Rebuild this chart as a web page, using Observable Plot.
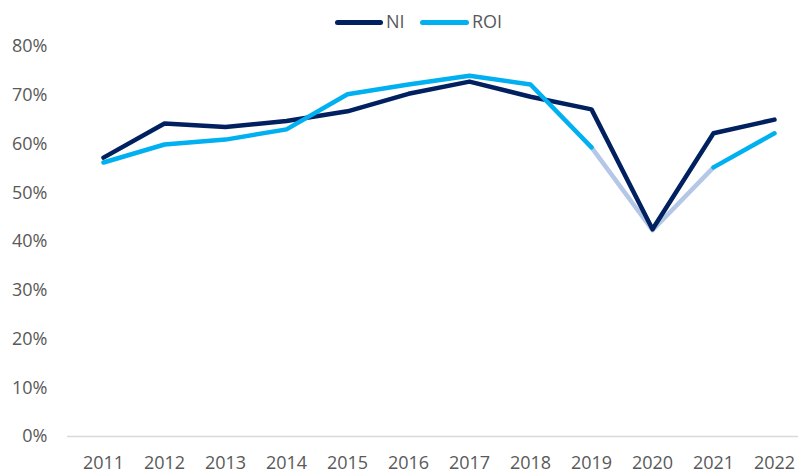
<!DOCTYPE html>
<html>
<head>
<meta charset="utf-8">
<script src="https://cdn.jsdelivr.net/npm/d3@7"></script>
<script src="https://cdn.jsdelivr.net/npm/@observablehq/plot@0.6"></script>
<style>
  body { margin: 0; background: #fff; font-family: "Open Sans", sans-serif; overflow: hidden; }
  #legend { position: relative; height: 30px; width: 798px; color: #595959; font-size: 18px; }
  #legend .sw { position: absolute; top: 20px; height: 5px; border-radius: 3px; }
  #legend .lb { position: absolute; top: 9px; line-height: 24px; }
  #chart svg { display: block; }
</style>
</head>
<body>
<div id="legend">
  <span class="sw" style="left:335px;width:48px;background:#002060"></span>
  <span class="lb" style="left:386px">NI</span>
  <span class="sw" style="left:420px;width:49px;background:#00B0F0"></span>
  <span class="lb" style="left:472px">ROI</span>
</div>
<div id="chart"></div>
<script>
const years = [2011, 2012, 2013, 2014, 2015, 2016, 2017, 2018, 2019, 2020, 2021, 2022];
const ni  = [0.572, 0.642, 0.635, 0.647, 0.667, 0.703, 0.728, 0.697, 0.671, 0.425, 0.622, 0.650];
const roi = [0.562, 0.599, 0.609, 0.630, 0.702, 0.722, 0.740, 0.722, 0.593, 0.423, 0.552, 0.622];
const roiPaleYears = [2019, 2020, 2021];
const yTicks = [0, 0.1, 0.2, 0.3, 0.4, 0.5, 0.6, 0.7, 0.8];

const niRows = years.map((year, i) => ({year, value: ni[i]}));
const roiRows = [];
years.forEach((year, i) => {
  const firstPale = roiPaleYears[0], lastPale = roiPaleYears[roiPaleYears.length - 1];
  if (year <= firstPale) roiRows.push({year, value: roi[i], seg: "a"});
  if (year >= lastPale) roiRows.push({year, value: roi[i], seg: "b"});
  if (roiPaleYears.includes(year)) roiRows.push({year, value: roi[i], seg: "pale"});
});
const roiSolid = roiRows.filter(d => d.seg !== "pale");
const roiPale = roiRows.filter(d => d.seg === "pale");

const lineOpts = {x: "year", y: "value", strokeWidth: 4.5, strokeLinecap: "round", strokeLinejoin: "round"};

const chart = Plot.plot({
  width: 798,
  height: 445,
  marginLeft: 67,
  marginRight: 0,
  marginTop: 16,
  marginBottom: 39,
  style: {fontFamily: "Open Sans", fontSize: "18px", color: "#595959", background: "#fff", overflow: "visible"},
  x: {type: "point", domain: years, range: [98, 779], padding: 0, label: null},
  y: {domain: [0, 0.8], label: null},
  marks: [
    Plot.ruleY([0], {stroke: "#d9d9d9", strokeWidth: 1.5}),
    Plot.axisY({ticks: yTicks, tickSize: 0, tickPadding: 20, tickFormat: d3.format(".0%"), label: null, fill: "#595959"}),
    Plot.axisX({tickSize: 0, tickPadding: 20, tickFormat: d => String(d), label: null, fill: "#595959"}),
    Plot.line(roiPale, {...lineOpts, stroke: "#B4C7E7"}),
    Plot.line(niRows, {...lineOpts, stroke: "#002060"}),
    Plot.line(roiSolid, {...lineOpts, z: "seg", stroke: "#00B0F0"})
  ]
});
document.getElementById("chart").appendChild(chart);
</script>
</body>
</html>
